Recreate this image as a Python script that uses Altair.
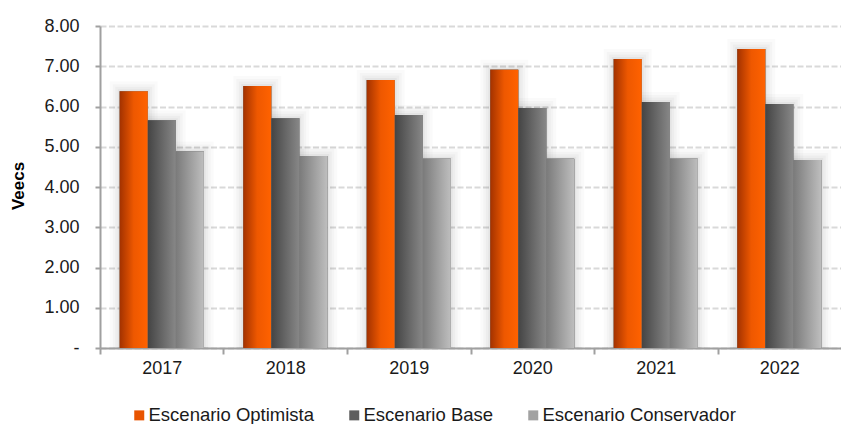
import altair as alt
import pandas as pd

years = ["2017", "2018", "2019", "2020", "2021", "2022"]
series = ["Escenario Optimista", "Escenario Base", "Escenario Conservador"]
optimista = [6.38, 6.51, 6.66, 6.91, 7.18, 7.43]
base = [5.66, 5.71, 5.79, 5.96, 6.11, 6.06]
conservador = [4.88, 4.77, 4.70, 4.70, 4.70, 4.67]
y_ticks = [0, 1, 2, 3, 4, 5, 6, 7, 8]
y_title = "Veecs"

solid_colors = ["#E85400", "#5E5E5E", "#A2A2A2"]
gradients = {
    "Escenario Optimista": ["#A33200", "#EE5800", "#FF6200"],
    "Escenario Base": ["#444444", "#666666", "#878787"],
    "Escenario Conservador": ["#7A7A7A", "#9C9C9C", "#BEBEBE"],
}

rows = []
for name, vals in zip(series, [optimista, base, conservador]):
    for yr, v in zip(years, vals):
        rows.append({"year": yr, "escenario": name, "valor": v})
df = pd.DataFrame(rows)

FONT = "Liberation Sans"
W, H = 741, 322
n = len(years)
p_in, p_out = 0.32, 0.16
step = W / (n - p_in + 2 * p_out)
outer = p_out * step

x_enc = alt.X(
    "year:N",
    sort=years,
    scale=alt.Scale(paddingInner=p_in, paddingOuter=p_out),
    axis=alt.Axis(
        title=None,
        bandPosition=0,
        tickOffset=-outer,
        labelOffset=outer,
        labelAlign="center",
        tickSize=6,
        tickWidth=2,
        tickColor="#a0a0a0",
        domainColor="#a0a0a0",
        domainWidth=2,
        labelFont=FONT,
        labelFontSize=18,
        labelColor="#1a1a1a",
        labelPadding=5,
        labelAngle=0,
        grid=False,
    ),
)
xo_enc = alt.XOffset(
    "escenario:N",
    sort=series,
    scale=alt.Scale(domain=series, paddingInner=0, paddingOuter=0),
)
y_enc = alt.Y(
    "valor:Q",
    scale=alt.Scale(domain=[0, 8], nice=False, zero=True),
    axis=alt.Axis(
        values=y_ticks,
        labelExpr="datum.value == 0 ? '-\u00a0\u00a0' : format(datum.value, '.2f')",
        tickSize=5,
        tickWidth=2,
        tickColor="#a0a0a0",
        domainColor="#a0a0a0",
        domainWidth=2,
        labelPadding=16,
        labelFont=FONT,
        labelFontSize=18,
        labelColor="#1a1a1a",
        grid=True,
        gridDash=[6, 2.5],
        gridColor="#d9d9d9",
        gridWidth=2,
        title=None,
    ),
)

base_chart = alt.Chart(df)

shadow_legend = base_chart.mark_bar(
    stroke="#000000", strokeOpacity=0.018, strokeWidth=20, clip=True
).encode(
    x=x_enc,
    xOffset=xo_enc,
    y=y_enc,
    color=alt.Color(
        "escenario:N",
        sort=series,
        scale=alt.Scale(domain=series, range=solid_colors),
        legend=alt.Legend(
            title=None,
            orient="none",
            direction="horizontal",
            legendX=30,
            legendY=380,
            symbolType="square",
            symbolSize=100,
            symbolStrokeWidth=0,
            symbolOpacity=1,
            labelFont=FONT,
            labelFontSize=18.5,
            labelColor="#1a1a1a",
            labelOffset=0,
            labelLimit=0,
            columnPadding=30,
        ),
    ),
)

layers = [shadow_legend]
for sw, so in [(14, 0.022), (9, 0.028), (4, 0.035)]:
    layers.append(
        base_chart.mark_bar(
            stroke="#000000", strokeOpacity=so, strokeWidth=sw, clip=True,
            fill="#888888",
        ).encode(x=x_enc, xOffset=xo_enc, y=y_enc)
    )

for name in series:
    c = gradients[name]
    grad = alt.LinearGradient(
        gradient="linear",
        x1=0, x2=1, y1=0, y2=0,
        stops=[
            alt.GradientStop(offset=0, color=c[0]),
            alt.GradientStop(offset=0.5, color=c[1]),
            alt.GradientStop(offset=1, color=c[2]),
        ],
    )
    layers.append(
        base_chart.transform_filter(alt.datum.escenario == name)
        .mark_bar(color=grad)
        .encode(x=x_enc, xOffset=xo_enc, y=y_enc)
    )

title_layer = alt.Chart(pd.DataFrame({"t": [y_title]})).mark_text(
    angle=270,
    font=FONT,
    fontSize=17,
    fontWeight="bold",
    color="#000000",
    align="center",
    baseline="middle",
).encode(text="t:N", x=alt.value(-81), y=alt.value(H / 2 - 1))
layers.append(title_layer)

chart = (
    alt.layer(*layers)
    .properties(
        width=W,
        height=H,
        autosize=alt.AutoSizeParams(type="none"),
        padding={"left": 100, "top": 26, "right": 0, "bottom": 76},
        background="white",
    )
    .configure_view(stroke=None)
)

chart.save("out.html", embed_options={"renderer": "svg", "actions": False})
